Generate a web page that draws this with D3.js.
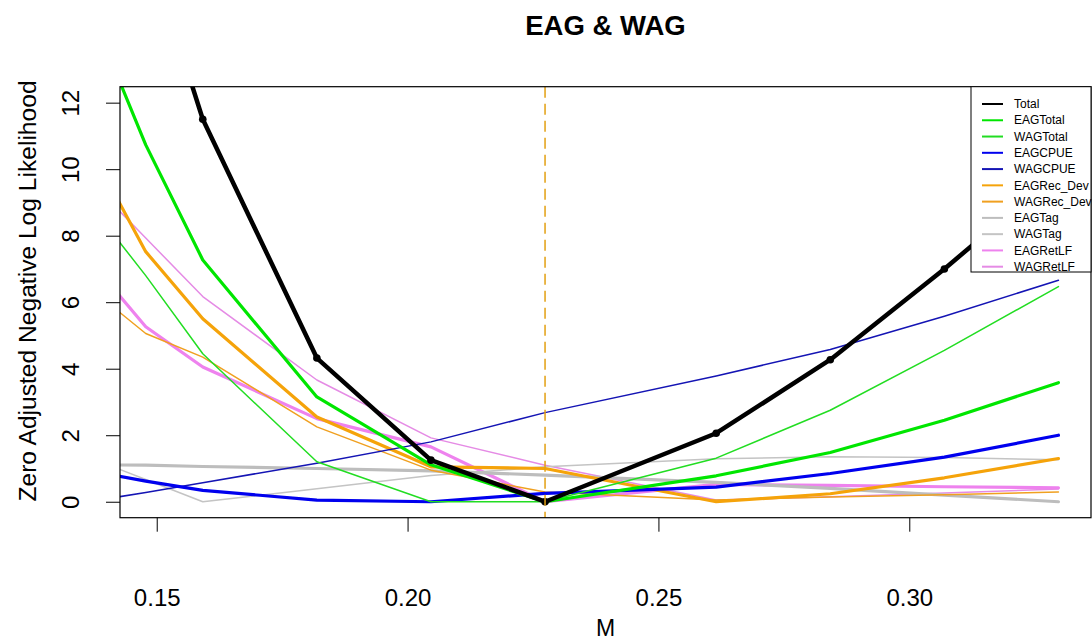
<!DOCTYPE html>
<html>
<head>
<meta charset="utf-8">
<script src="https://cdn.jsdelivr.net/npm/d3@7/dist/d3.min.js"></script>
<style>
  html, body { margin: 0; padding: 0; background: #ffffff; }
  svg { display: block; font-family: "Liberation Sans", Arial, sans-serif; }
</style>
</head>
<body>
<svg id="chart" width="1092" height="642"></svg>
<script>
// ---- data ----
const M = [0.13644, 0.14781, 0.15918, 0.18192, 0.20466, 0.2274, 0.26151, 0.28425, 0.30699, 0.32973];
const Total      = [23.0, 16.9, 11.5, 4.32, 1.25, 0.0, 2.06, 4.27, 7.0, 9.9];
const EAGTotal   = [14.9, 10.73, 7.27, 3.15, 1.11, 0.0, 0.78, 1.48, 2.45, 3.58];
const WAGTotal   = [8.99, 6.8, 4.45, 1.2, 0.0, 0.0, 1.31, 2.75, 4.55, 6.47];
const EAGCPUE    = [0.93, 0.62, 0.34, 0.05, 0.0, 0.25, 0.44, 0.85, 1.34, 2.0];
const WAGCPUE    = [0.0, 0.28, 0.57, 1.16, 1.8, 2.68, 3.78, 4.58, 5.58, 6.66];
const EAGRec_Dev = [10.7, 7.52, 5.5, 2.55, 1.05, 1.0, 0.0, 0.24, 0.72, 1.3];
const WAGRec_Dev = [6.45, 5.06, 4.35, 2.25, 0.95, 0.29, 0.05, 0.14, 0.21, 0.29];
const EAGTag     = [1.11, 1.1, 1.06, 1.0, 0.93, 0.8, 0.58, 0.4, 0.2, 0.0];
const WAGTag     = [1.33, 0.67, 0.0, 0.39, 0.79, 1.05, 1.29, 1.35, 1.33, 1.26];
const EAGRetLF   = [7.3, 5.26, 4.05, 2.5, 1.65, 0.0, 0.52, 0.49, 0.45, 0.42];
const WAGRetLF   = [9.69, 7.93, 6.17, 3.66, 1.92, 1.1, 0.05, 0.15, 0.26, 0.38];
const seriesNames = ["Total", "EAGTotal", "WAGTotal", "EAGCPUE", "WAGCPUE", "EAGRec_Dev", "WAGRec_Dev", "EAGTag", "WAGTag", "EAGRetLF", "WAGRetLF"];
const seriesValues = [Total, EAGTotal, WAGTotal, EAGCPUE, WAGCPUE, EAGRec_Dev, WAGRec_Dev, EAGTag, WAGTag, EAGRetLF, WAGRetLF];
const xTicks = [0.15, 0.20, 0.25, 0.30];
const xTickLabels = ["0.15", "0.20", "0.25", "0.30"];
const yTicks = [0, 2, 4, 6, 8, 10, 12];
const bestM = 0.2274;
const titleText = "EAG & WAG";
const xTitle = "M";
const yTitle = "Zero Adjusted Negative Log Likelihood";

// ---- styles ----
const colors = ["#000000", "#00e600", "#22dd22", "#0000ee", "#1414b4", "#f5a30a", "#f0a020", "#bdbdbd", "#c4c4c4", "#ee82ee", "#e58be5"];
const widths = [4.5, 3.2, 1.5, 3.2, 1.5, 3.2, 1.5, 3.2, 1.5, 3.2, 1.5];

const svg = d3.select("#chart");
const W = 1092, H = 642;
const plot = { left: 120, right: 1091, top: 86.7, bottom: 517.7 };

svg.append("rect").attr("width", W).attr("height", H).attr("fill", "#fff");

const x = d3.scaleLinear().domain([0.14268, 0.33622]).range([plot.left, plot.right]);
const y = d3.scaleLinear().domain([-0.48, 12.48]).range([plot.bottom, plot.top]);

svg.append("clipPath").attr("id", "clip")
  .append("rect").attr("x", plot.left).attr("y", plot.top)
  .attr("width", plot.right - plot.left).attr("height", plot.bottom - plot.top);

const g = svg.append("g").attr("clip-path", "url(#clip)");
const line = d3.line().x((d, i) => x(M[i])).y(d => y(d));

// draw in reverse so Total is on top
for (let s = seriesValues.length - 1; s >= 0; s--) {
  g.append("path")
    .datum(seriesValues[s])
    .attr("d", line)
    .attr("fill", "none")
    .attr("stroke", colors[s])
    .attr("stroke-width", widths[s])
    .attr("stroke-linejoin", "round")
    .attr("stroke-linecap", "round");
}
// points on Total
g.selectAll("circle.tp").data(Total).enter().append("circle")
  .attr("class", "tp")
  .attr("cx", (d, i) => x(M[i])).attr("cy", d => y(d)).attr("r", 3.8)
  .attr("fill", "#000");

// vertical dashed line
svg.append("line")
  .attr("x1", x(bestM)).attr("x2", x(bestM))
  .attr("y1", plot.top).attr("y2", plot.bottom)
  .attr("stroke", "#e3a012").attr("stroke-width", 1.5)
  .attr("stroke-dasharray", "11,6");

// box
svg.append("rect")
  .attr("x", plot.left).attr("y", plot.top)
  .attr("width", plot.right - plot.left).attr("height", plot.bottom - plot.top)
  .attr("fill", "none").attr("stroke", "#000").attr("stroke-width", 1.2);

// x axis
const xAxis = d3.axisBottom(x).tickValues(xTicks).tickFormat((d, i) => xTickLabels[i])
  .tickSize(14).tickPadding(0);
const xg = svg.append("g").attr("transform", `translate(0,${plot.bottom})`).call(xAxis);
xg.select(".domain").remove();
xg.selectAll(".tick line").attr("stroke", "#000").attr("stroke-width", 1);
xg.selectAll(".tick text").attr("y", 88).attr("dy", 0)
  .attr("font-size", 24).attr("fill", "#000")
  .attr("font-family", "Liberation Sans, Arial, sans-serif");

// y axis
const yAxis = d3.axisLeft(y).tickValues(yTicks).tickFormat(d3.format("d"))
  .tickSize(14).tickPadding(0);
const yg = svg.append("g").attr("transform", `translate(${plot.left},0)`).call(yAxis);
yg.select(".domain").remove();
yg.selectAll(".tick line").attr("stroke", "#000").attr("stroke-width", 1);
yg.selectAll(".tick text")
  .attr("x", 0).attr("dy", 0)
  .attr("text-anchor", "middle")
  .attr("transform", "translate(-41,0) rotate(-90)")
  .attr("font-size", 24).attr("fill", "#000")
  .attr("font-family", "Liberation Sans, Arial, sans-serif");

// titles
svg.append("text").attr("x", (plot.left + plot.right) / 2).attr("y", 35)
  .attr("text-anchor", "middle").attr("font-weight", "bold").attr("font-size", 27.5)
  .text(titleText);
svg.append("text").attr("x", (plot.left + plot.right) / 2).attr("y", 636)
  .attr("text-anchor", "middle").attr("font-size", 23)
  .text(xTitle);
svg.append("text")
  .attr("transform", `translate(36,291) rotate(-90)`)
  .attr("text-anchor", "middle").attr("font-size", 24.6)
  .text(yTitle);

// legend
const lg = svg.append("g");
const lgBox = { x: 971, y: plot.top, w: plot.right - 971, h: 272 - plot.top };
lg.append("rect").attr("x", lgBox.x).attr("y", lgBox.y).attr("width", lgBox.w).attr("height", lgBox.h)
  .attr("fill", "#fff").attr("stroke", "#000").attr("stroke-width", 1);
seriesNames.forEach((name, i) => {
  const yy = 104 + i * 16.27;
  lg.append("line").attr("x1", 982).attr("x2", 1003).attr("y1", yy).attr("y2", yy)
    .attr("stroke", colors[i]).attr("stroke-width", 2);
  lg.append("text").attr("x", 1014).attr("y", yy).attr("dy", "0.35em")
    .attr("font-size", 12).attr("fill", "#000").text(name);
});
</script>
</body>
</html>
